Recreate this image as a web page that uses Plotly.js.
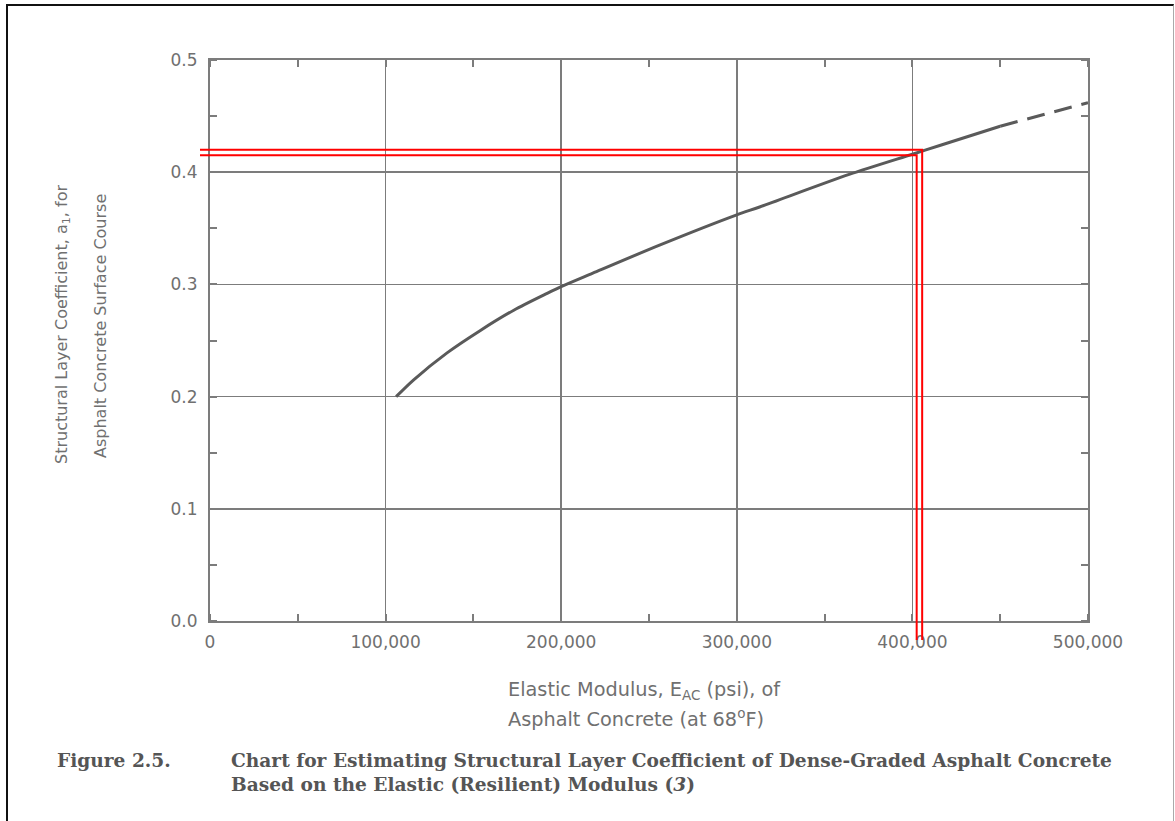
<!DOCTYPE html>
<html>
<head>
<meta charset="utf-8">
<script src="https://cdn.plot.ly/plotly-3.0.1.min.js"></script>
<style>
  html, body { margin: 0; padding: 0; background: #fff; }
  #chart { width: 1175px; height: 821px; }
  #frame { position: absolute; left: 6px; top: 4px; width: 1165px; height: 900px;
           border-left: 2px solid #111; border-top: 2px solid #111; border-right: 1px solid #aaa;
           pointer-events: none; }
</style>
</head>
<body>
<div id="chart"></div>
<div id="frame"></div>
<script>
// ---- data ----
const modulusSolid = [106000, 116000, 135000, 154000, 173000, 192000, 200000, 218000, 256000, 300000, 313000, 364000, 400000, 416000, 450000];
const coeffSolid   = [0.200, 0.215, 0.239, 0.259, 0.277, 0.292, 0.298, 0.310, 0.335, 0.362, 0.369, 0.398, 0.416, 0.424, 0.441];
const modulusDashed = [450000, 500000];
const coeffDashed   = [0.441, 0.462];
const readModulus = 404000;   // red reading guide
const readCoeff = 0.4175;
const xTickVals = [0, 100000, 200000, 300000, 400000, 500000];
const yTickVals = [0, 0.1, 0.2, 0.3, 0.4, 0.5];
const xRange = [0, 500000];
const yRange = [0, 0.5];

// ---- layout geometry ----
const W = 1175, H = 821;
const M = {l: 210, r: 87, t: 60, b: 200};
const PW = W - M.l - M.r, PH = H - M.t - M.b;
const fx = px => (px - M.l) / PW;
const fy = py => (M.t + PH - py) / PH;
const dx = v => (v - xRange[0]) / (xRange[1] - xRange[0]);
const dy = v => (v - yRange[0]) / (yRange[1] - yRange[0]);

const ink = '#5a5a5a';
const gridC = '#7c7c7c';
const textC = '#707070';
const sans = 'DejaVu Sans, Arial, sans-serif';
const serif = 'DejaVu Serif, Liberation Serif, serif';

const traces = [
  {x: modulusSolid, y: coeffSolid, mode: 'lines', line: {color: ink, width: 3, shape: 'spline', smoothing: 0.8}, hoverinfo: 'x+y'},
  {x: modulusDashed, y: coeffDashed, mode: 'lines', line: {color: ink, width: 3, dash: '18px,10px'}, hoverinfo: 'x+y'}
];

// red double guide lines (paper coordinates derived from data values)
const off = 2.75 / PW, offY = 2.75 / PH;
const rx = dx(readModulus), ry = dy(readCoeff);
const leftX = fx(200), bottomY = fy(640);
const redPath = (o, oy) => `M ${leftX},${ry + oy} L ${rx + o},${ry + oy} L ${rx + o},${bottomY}`;
const shapes = [
  {type: 'path', xref: 'paper', yref: 'paper', path: redPath(off, offY), line: {color: '#ff0000', width: 2}, layer: 'above'},
  {type: 'path', xref: 'paper', yref: 'paper', path: redPath(-off, -offY), line: {color: '#ff0000', width: 2}, layer: 'above'}
];

const ann = (text, px, py, opts) => Object.assign({
  text: text, xref: 'paper', yref: 'paper', x: fx(px), y: fy(py), showarrow: false,
  xanchor: 'left', yanchor: 'middle', font: {family: sans, size: 16, color: textC}
}, opts || {});
const capFont = {family: serif, size: 18.6, color: '#555'};
const xtFont = {family: sans, size: 19.3, color: textC};

const annotations = [
  ann('Elastic Modulus, E<sub>AC</sub> (psi), of', 506, 690, {font: xtFont}),
  ann('Asphalt Concrete (at 68<sup>o</sup>F)', 506, 718, {font: xtFont}),
  ann('Structural Layer Coefficient, a<sub>1</sub>, for', 62, 325, {xanchor: 'center', textangle: -90}),
  ann('Asphalt Concrete Surface Course', 100, 326, {xanchor: 'center', textangle: -90}),
  ann('<b>Figure 2.5.</b>', 55, 760, {font: capFont}),
  ann('<b>Chart for Estimating Structural Layer Coefficient of Dense-Graded Asphalt Concrete</b>', 229, 760, {font: capFont}),
  ann('<b>Based on the Elastic (Resilient) Modulus (<i>3</i>)</b>', 229, 784, {font: capFont})
];

const axisCommon = {
  showgrid: true, gridcolor: gridC, gridwidth: 1.6,
  showline: true, linecolor: gridC, linewidth: 2, mirror: 'ticks',
  ticks: '', zeroline: false, fixedrange: true,
  tickfont: {family: sans, size: 17, color: textC}
};

const layout = {
  width: W, height: H, margin: M, showlegend: false,
  paper_bgcolor: '#fff', plot_bgcolor: '#fff',
  xaxis: Object.assign({}, axisCommon, {
    range: xRange, tickmode: 'array', tickvals: xTickVals, tickformat: ',d', ticklabelstandoff: 5,
    minor: {dtick: 50000, tick0: 0, ticks: 'inside', ticklen: 7, tickwidth: 2, tickcolor: gridC, showgrid: false}
  }),
  yaxis: Object.assign({}, axisCommon, {
    range: yRange, tickmode: 'array', tickvals: yTickVals, tickformat: '.1f', ticklabelstandoff: 7,
    minor: {dtick: 0.05, tick0: 0, ticks: 'inside', ticklen: 7, tickwidth: 2, tickcolor: gridC, showgrid: false}
  }),
  shapes: shapes,
  annotations: annotations
};

Plotly.newPlot('chart', traces, layout, {staticPlot: true});
</script>
</body>
</html>
